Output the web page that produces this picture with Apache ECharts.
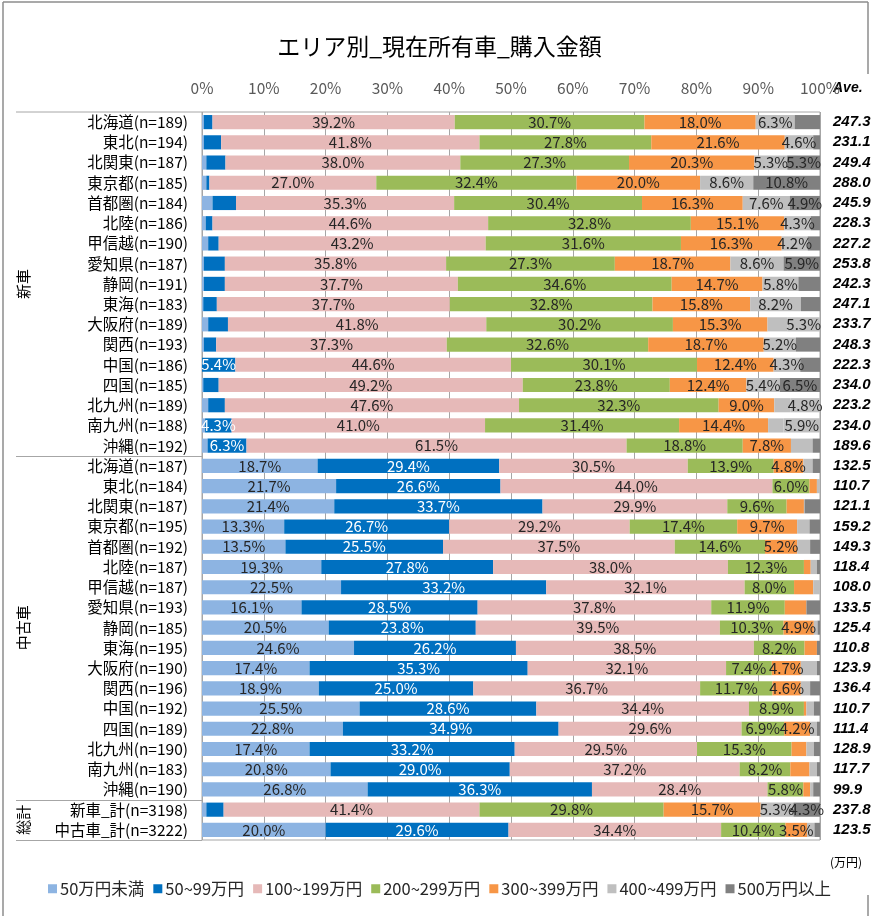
<!DOCTYPE html>
<html><head><meta charset="utf-8">
<script src="https://cdn.jsdelivr.net/npm/echarts@6/dist/echarts.min.js"></script>
<style>html,body{margin:0;padding:0;background:#fff}#c{width:879px;height:916px}</style>
</head><body><div id="c"></div>
<script>
const regions = ['北海道','東北','北関東','東京都','首都圏','北陸','甲信越','愛知県','静岡','東海','大阪府','関西','中国','四国','北九州','南九州','沖縄'];
const newN  = [189,194,187,185,184,186,190,187,191,183,189,193,186,185,189,188,192];
const usedN = [187,184,187,195,192,187,187,193,185,195,190,196,192,189,190,183,190];
const totalNames = ['新車_計','中古車_計'];
const totalN = [3198,3222];
const groupNames = ['新車','中古車','総計'];
const seriesNames = ['50万円未満','50~99万円','100~199万円','200~299万円','300~399万円','400~499万円','500万円以上'];
const xTicks = [0,10,20,30,40,50,60,70,80,90,100];

// rows: 17 new-car areas, 17 used-car areas, 2 totals
const under50 = [0.3,0.3,0.7,0.7,1.7,0.6,1.0,0.3,0.3,0.2,1.0,0.3,0.0,0.2,1.0,0.5,0.9,
                 18.7,21.7,21.4,13.3,13.5,19.3,22.5,16.1,20.5,24.6,17.4,18.9,25.5,22.8,17.4,20.8,26.8,
                 0.7,20.0];
const from50 = [1.4,2.8,3.1,0.5,3.8,1.1,1.7,3.4,3.4,2.2,3.2,2.0,5.4,2.5,2.7,4.3,6.3,
                29.4,26.6,33.7,26.7,25.5,27.8,33.2,28.5,23.8,26.2,35.3,25.0,28.6,34.9,33.2,29.0,36.3,
                2.8,29.6];
const from100 = [39.2,41.8,38.0,27.0,35.3,44.6,43.2,35.8,37.7,37.7,41.8,37.3,44.6,49.2,47.6,41.0,61.5,
                 30.5,44.0,29.9,29.2,37.5,38.0,32.1,37.8,39.5,38.5,32.1,36.7,34.4,29.6,29.5,37.2,28.4,
                 41.4,34.4];
const from200 = [30.7,27.8,27.3,32.4,30.4,32.8,31.6,27.3,34.6,32.8,30.2,32.6,30.1,23.8,32.3,31.4,18.8,
                 13.9,6.0,9.6,17.4,14.6,12.3,8.0,11.9,10.3,8.2,7.4,11.7,8.9,6.9,15.3,8.2,5.8,
                 29.8,10.4];
const from300 = [18.0,21.6,20.3,20.0,16.3,15.1,16.3,18.7,14.7,15.8,15.3,18.7,12.4,12.4,9.0,14.4,7.8,
                 4.8,1.2,2.8,9.7,5.2,1.1,3.1,3.5,4.9,2.0,4.7,4.6,0.4,4.2,2.4,3.1,1.1,
                 15.7,3.5];
const from400 = [6.3,4.6,5.3,8.6,7.6,4.3,4.2,8.6,5.8,8.2,3.2,5.2,4.3,5.4,2.6,2.5,3.5,
                 1.5,0.5,0.1,2.0,2.1,1.0,1.1,0.0,0.6,0.0,2.6,1.5,1.2,1.1,1.2,1.2,0.5,
                 5.3,1.2];
const from500 = [4.1,1.1,5.3,10.8,4.9,1.5,2.0,5.9,3.5,3.1,5.3,3.9,3.2,6.5,4.8,5.9,1.2,
                 1.2,0.0,2.5,1.7,1.6,0.5,0.0,2.2,0.4,0.5,0.5,1.6,1.0,0.5,1.0,0.5,1.1,
                 4.3,0.9];
const aveValues = [247.3,231.1,249.4,288.0,245.9,228.3,227.2,253.8,242.3,247.1,233.7,248.3,222.3,234.0,223.2,234.0,189.6,
                   132.5,110.7,121.1,159.2,149.3,118.4,108.0,133.5,125.4,110.8,123.9,136.4,110.7,111.4,128.9,117.7,99.9,
                   237.8,123.5];
// rows whose 500万円以上 segment is drawn in the light grey of the original
const lightTopRows = [10,14,15];

const categories = [
  ...regions.map((r,i)=>r+'(n='+newN[i]+')'),
  ...regions.map((r,i)=>r+'(n='+usedN[i]+')'),
  ...totalNames.map((r,i)=>r+'(n='+totalN[i]+')')
];
const groupSizes = [regions.length, regions.length, totalNames.length];

const colors = ['#8DB4E2','#0070C0','#E6B9B8','#9BBB59','#F79646','#BFBFBF','#808080'];
const labelColors = ['#262626','#ffffff','#262626','#262626','#262626','#262626','#262626'];
const values = [under50,from50,from100,from200,from300,from400,from500];
const LABEL_MIN = 4.15, TOTAL_LABEL_MIN = 3.4;
const nRows = categories.length;
const numFont = '"Noto Sans CJK JP", "Noto Sans", sans-serif';
const jpFont = '"Noto Sans CJK JP", sans-serif';

const W = 879, H = 916;
const G = {left:202, right:59, top:112, bottom:76};
const rowH = (H - G.top - G.bottom) / nRows;

const series = values.map((arr,s)=>({
  name: seriesNames[s], type:'bar', stack:'all', barCategoryGap:'30%',
  itemStyle:{color:colors[s]},
  data: arr.map((v,i)=>{
    const it = {value:v};
    if (s===6 && lightTopRows.includes(i)) it.itemStyle = {color:colors[5]};
    return it;
  }),
  label:{show:true, position:'inside', color:labelColors[s], fontSize:15, fontFamily:numFont,
    formatter:p=>{
      const min = p.dataIndex >= nRows - totalNames.length ? TOTAL_LABEL_MIN : LABEL_MIN;
      return p.value >= min ? p.value.toFixed(1)+'%' : '';
    }},
  emphasis:{disabled:true}
}));

const graphics = [];
// chart border
const bc = '#8c8c8c';
graphics.push({type:'line', shape:{x1:3,y1:2,x2:3,y2:H}, style:{stroke:bc, lineWidth:1.5}});
graphics.push({type:'line', shape:{x1:3,y1:2,x2:868,y2:2}, style:{stroke:bc, lineWidth:1.5}});
graphics.push({type:'line', shape:{x1:868,y1:2,x2:868,y2:74}, style:{stroke:bc, lineWidth:1.5}});
graphics.push({type:'line', shape:{x1:868,y1:895,x2:868,y2:H}, style:{stroke:bc, lineWidth:1.5}});
// group separators and group labels
let acc = 0;
const sepY = y => ({type:'line', shape:{x1:16,y1:y,x2:G.left,y2:y}, style:{stroke:'#a6a6a6', lineWidth:1}});
graphics.push(sepY(G.top));
groupSizes.forEach((n,gi)=>{
  const y0 = G.top + acc*rowH, y1 = G.top + (acc+n)*rowH;
  graphics.push(sepY(Math.round(y1)+0.5));
  graphics.push({type:'text', x:23, y:(y0+y1)/2, rotation:Math.PI/2,
    style:{text:groupNames[gi], font:'15px '+jpFont, fill:'#000', textAlign:'center', textVerticalAlign:'middle'}});
  acc += n;
});
graphics.push({type:'text', x:833, y:88, style:{text:'Ave.', font:'italic bold 14px "Liberation Sans", Arial, sans-serif', fill:'#000', textAlign:'left', textVerticalAlign:'middle'}});
graphics.push({type:'text', x:846, y:862, style:{text:'(万円)', font:'12px '+jpFont, fill:'#000', textAlign:'center', textVerticalAlign:'middle'}});

const chart = echarts.init(document.getElementById('c'), null, {renderer:'canvas'});
chart.setOption({
  animation:false,
  backgroundColor:'#fff',
  title:{text:'エリア別_現在所有車_購入金額', left:'center', top:30,
    textStyle:{fontSize:23, fontWeight:'normal', color:'#000', fontFamily:jpFont}},
  legend:{data:seriesNames, bottom:14, left:'center', itemWidth:9, itemHeight:9, itemGap:9, icon:'rect',
    textStyle:{fontSize:16.5, color:'#262626', fontFamily:jpFont, padding:[0,0,0,-2]}},
  grid:{left:G.left, right:G.right, top:G.top, bottom:G.bottom, show:true, borderColor:'#a6a6a6', borderWidth:1},
  xAxis:{type:'value', position:'top', min:xTicks[0], max:xTicks[xTicks.length-1], interval:xTicks[1]-xTicks[0],
    axisLine:{show:false}, axisTick:{show:false},
    splitLine:{show:true, lineStyle:{color:'#a6a6a6', width:1}},
    axisLabel:{formatter:'{value}%', margin:16, fontSize:15.5, color:'#595959', fontFamily:numFont}},
  yAxis:[
    {type:'category', data:categories, inverse:true, axisLine:{show:false}, axisTick:{show:false},
      axisLabel:{interval:0, margin:14, fontSize:15.5, color:'#000', fontFamily:jpFont}},
    {type:'category', data:categories, inverse:true, position:'right', axisLine:{show:false}, axisTick:{show:false},
      axisLabel:{interval:0, margin:13, align:'left', formatter:(v,i)=>aveValues[i].toFixed(1),
        fontStyle:'italic', fontWeight:'bold', fontSize:15, color:'#000', fontFamily:'"Liberation Sans", Arial, sans-serif'}}
  ],
  series:series,
  graphic:graphics
});
</script></body></html>
